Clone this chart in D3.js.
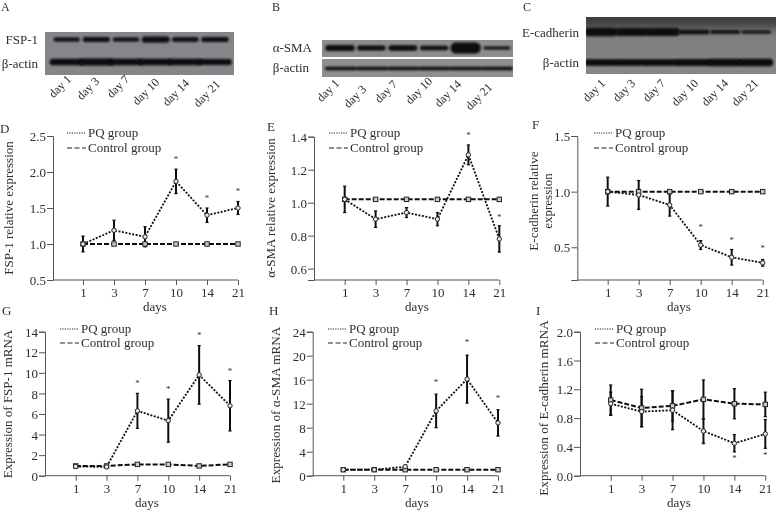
<!DOCTYPE html>
<html><head><meta charset="utf-8">
<style>html,body{margin:0;padding:0;background:#fff}svg{display:block}
text{font-family:"Liberation Serif",serif;fill:#2e2e2e}</style>
<script src="https://cdn.jsdelivr.net/npm/d3@7/dist/d3.min.js"></script></head>
<body><svg id="c" width="776" height="511"></svg>
<script>
// ---- data ----
const days = ["1","3","7","10","14","21"];
const blotDays = ["day 1","day 3","day 7","day 10","day 14","day 21"];

const fsp1Bands   = [0.8,1.0,0.85,1.25,0.95,1.05];
const actinABands = [1.2,1.25,1.2,1.15,1.15,1.1];
const smaBands    = [1.1,0.9,1.0,0.8,2.0,0.5];
const actinBBands = [0.8,0.8,0.8,0.8,0.8,0.85];
const ecadBands   = [1.5,1.4,1.4,0.8,0.6,0.5];
const actinCBands = [1.15,1.2,1.2,1.25,1.3,1.3];

const dPQ=[1,1.19,1.1,1.87,1.4,1.5],    dPQErr=[.11,.14,.14,.17,.1,.09];
const dCtrl=[1,1,1,1,1,1],              dStars=[null,null,null,2.2,1.65,1.75];
const ePQ=[1.02,.9,.94,.9,1.29,.78],    ePQErr=[.08,.05,.03,.04,.06,.08];
const eCtrl=[1.02,1.02,1.02,1.02,1.02,1.02], eStars=[null,null,null,null,1.415,.92];
const fPQ=[1,.97,.88,.52,.41,.36],      fPQErr=[.13,.13,.1,.04,.07,.03];
const fCtrl=[1,1,1,1,1,1],              fStars=[null,null,null,.69,.577,.506];
const gPQ=[.9,.85,6.3,5.35,9.8,6.8],    gPQErr=[.1,.1,1.7,2.1,2.85,2.45];
const gCtrl=[.95,.95,1.1,1.1,.95,1.1],  gStars=[null,null,9.1,8.5,13.8,10.3];
const hPQ=[1,1,1.5,10.8,16.1,8.8],      hPQErr=[0,0,.2,2.8,4,2.2];
const hCtrl=[1,1,1,1,1,1],              hStars=[null,null,null,15.8,22.4,13.2];
const iPQ=[1,.89,.91,.62,.45,.58],      iPQErr=[.16,.21,.27,.17,.12,.2];
const iCtrl=[1.05,.94,.97,1.06,1,.99],  iCtrlErr=[.21,.26,.21,.27,.21,.17];
const iStars=[null,null,null,.435,.265,.3];
const noErr=[0,0,0,0,0,0];

const panels=[
 {l:"D",lx:0,ly:133,ax:53,x0:83,x1:238,yT:136,yB:280,dom:[.5,2.5],ticks:[.5,1,1.5,2,2.5],f:".1f",pq:dPQ,pe:dPQErr,c:dCtrl,ce:noErr,s:dStars,
  lab:["FSP-1 relative expression"],labX:[8],labY:208,labS:13,lgX:67,lgY:[133,148],dayB:311,dayX:155},
 {l:"E",lx:267,ly:131,ax:314,x0:344.7,x1:499.3,yT:136.7,yB:280,dom:[.531,1.4],ticks:[.6,.8,1,1.2,1.4],f:".1f",pq:ePQ,pe:ePQErr,c:eCtrl,ce:noErr,s:eStars,
  lab:["α-SMA relative expression"],labX:[270],labY:208,labS:13,lgX:329,lgY:[133,148],dayB:311,dayX:417},
 {l:"F",lx:532,ly:129,ax:577.3,x0:607.7,x1:762.7,yT:136,yB:280,dom:[.206,1.5],ticks:[.5,1,1.5],f:".1f",pq:fPQ,pe:fPQErr,c:fCtrl,ce:noErr,s:fStars,
  lab:["E-cadherin relative","expression"],labX:[533,547],labY:201,labS:13,lgX:594,lgY:[133,148],dayB:311,dayX:679},
 {l:"G",lx:2,ly:315,ax:45,x0:75.7,x1:230,yT:331.7,yB:475.7,dom:[0,14],ticks:[0,2,4,6,8,10,12,14],f:"d",pq:gPQ,pe:gPQErr,c:gCtrl,ce:noErr,s:gStars,
  lab:["Expression of FSP-1 mRNA"],labX:[7],labY:404,labS:13,lgX:60,lgY:[329,343],dayB:507,dayX:147},
 {l:"H",lx:269,ly:315,ax:312.7,x0:343.3,x1:498,yT:331.7,yB:475.7,dom:[0,24],ticks:[0,4,8,12,16,20,24],f:"d",pq:hPQ,pe:hPQErr,c:hCtrl,ce:noErr,s:hStars,
  lab:["Expression of α-SMA mRNA"],labX:[275],labY:405,labS:13.2,lgX:328,lgY:[329,343],dayB:507,dayX:417},
 {l:"I",lx:536,ly:315,ax:580,x0:610.7,x1:765.3,yT:331.7,yB:475.7,dom:[0,2],ticks:[0,.4,.8,1.2,1.6,2],f:".1f",pq:iPQ,pe:iPQErr,c:iCtrl,ce:iCtrlErr,s:iStars,
  lab:["Expression of E-cadherin mRNA"],labX:[543],labY:408,labS:13.2,lgX:595,lgY:[329,343],dayB:507,dayX:679}
];

const svg=d3.select("#c");
const defs=svg.append("defs");
defs.append("filter").attr("id","soft").attr("x","-20%").attr("y","-20%").attr("width","140%").attr("height","140%")
  .append("feGaussianBlur").attr("stdDeviation",0.35);
defs.append("filter").attr("id","band").attr("x","-30%").attr("y","-100%").attr("width","160%").attr("height","300%")
  .append("feGaussianBlur").attr("stdDeviation",1.1);
defs.append("filter").attr("id","smear").attr("x","-10%").attr("y","-100%").attr("width","120%").attr("height","300%")
  .append("feGaussianBlur").attr("stdDeviation",5);

// ---- western blots ----
const gels=[
 {x:45,y:32,w:189,h:43,col:"#85858a",rows:[
   {b:fsp1Bands,cy:39.5,lanes:[66.7,215],bw:27,ky:2.4},
   {b:actinABands,cy:62,lanes:[66.7,215],bw:33,ky:2.8}]},
 {x:322,y:40,w:191,h:17,col:"#8c8c8c",rows:[{b:smaBands,cy:48,lanes:[340,497],bw:29,ky:2.8}]},
 {x:322,y:59,w:191,h:18,col:"#8e8e8e",rows:[{b:actinBBands,cy:68.5,lanes:[341,497],bw:33,ky:2.2}]},
 {x:586,y:17,w:190,h:57,col:"#7f7f80",smear:true,rows:[
   {b:ecadBands,cy:32,lanes:[601,756],bw:32,ky:2.8},
   {b:actinCBands,cy:62.5,lanes:[601,756],bw:33,ky:2.8}]}
];
gels.forEach((g,i)=>{
  defs.append("clipPath").attr("id","gc"+i).append("rect").attr("x",g.x).attr("y",g.y).attr("width",g.w).attr("height",g.h);
  const gg=svg.append("g").attr("clip-path",`url(#gc${i})`);
  gg.append("rect").attr("x",g.x).attr("y",g.y).attr("width",g.w).attr("height",g.h).attr("fill",g.col);
  if(g.smear){
    gg.append("rect").attr("x",g.x-10).attr("y",g.y-8).attr("width",g.w+20).attr("height",19)
      .attr("fill","#222").attr("opacity",.7).attr("filter","url(#smear)");
    gg.append("rect").attr("x",g.x-10).attr("y",g.y+42).attr("width",g.w+20).attr("height",14)
      .attr("fill","#a0a0a0").attr("opacity",.35).attr("filter","url(#smear)");
  }
  g.rows.forEach(r=>{
    const x=d3.scalePoint().domain(blotDays).range(r.lanes);
    gg.selectAll(null).data(r.b.map((v,k)=>({v,d:blotDays[k]}))).join("rect")
      .attr("x",d=>x(d.d)-r.bw/2*(0.85+0.15*Math.min(d.v,1.3)))
      .attr("width",d=>r.bw*(0.85+0.15*Math.min(d.v,1.3)))
      .attr("y",d=>r.cy-r.ky*d.v).attr("height",d=>2*r.ky*d.v)
      .attr("rx",d=>r.ky*d.v)
      .attr("fill","#070707").attr("filter","url(#band)");
  });
});

const txt=svg.append("g").attr("filter","url(#soft)");
function plain(t,x,y,anchor,size){return txt.append("text").attr("x",x).attr("y",y).attr("text-anchor",anchor||"start").attr("font-size",size||13).text(t);}
[["A",1,11],["B",272,11],["C",523,11]].forEach(a=>plain(a[0],a[1],a[2],"start",12));
[["FSP-1",38,44],["β-actin",38,68],["α-SMA",312,52],["β-actin",309,72],["E-cadherin",579,37],["β-actin",579,67]]
 .forEach(a=>plain(a[0],a[1],a[2],"end"));

const dayEnds=[
 [[72,80],[100,82],[130,80],[160,83],[190,84],[221,85]],
 [[340,84],[367,90],[398,85],[433,82],[462,85],[493,88]],
 [[606,84],[636,84],[666,84],[699,84],[729,84],[759,84]]
];
dayEnds.forEach(set=>set.forEach((p,k)=>{
  txt.append("text").attr("transform",`translate(${p[0]},${p[1]}) rotate(-45)`)
    .attr("text-anchor","end").attr("font-size",12).text(blotDays[k]);
}));

// ---- line panels ----
const axisCol="#555";
panels.forEach(p=>{
  const g=svg.append("g").attr("filter","url(#soft)");
  const x=d3.scalePoint().domain(days).range([p.x0,p.x1]);
  const y=d3.scaleLinear().domain(p.dom).range([p.yB,p.yT]);

  const ax=g.append("g").attr("transform",`translate(${p.ax},0)`)
    .call(d3.axisLeft(y).tickValues(p.ticks).tickFormat(d3.format(p.f)).tickSize(6).tickPadding(1));
  const bx=g.append("g").attr("transform",`translate(0,${p.yB})`)
    .call(d3.axisBottom(x).tickSize(5).tickPadding(3).tickSizeOuter(0));
  bx.select(".domain").remove();
  g.append("line").attr("x1",p.ax).attr("x2",p.x1).attr("y1",p.yB).attr("y2",p.yB).attr("stroke",axisCol).attr("stroke-width",1);
  [ax,bx].forEach(s=>{
    s.selectAll("text").attr("font-size",13).attr("font-family",'"Liberation Serif",serif').attr("fill","#2e2e2e");
    s.selectAll("line,.domain").attr("stroke",axisCol);
  });
  ax.selectAll(".tick text").attr("dy","0.36em");

  const line=d3.line().x((d,i)=>x(days[i])).y(d=>y(d));
  const idx=d3.range(days.length);

  // control
  g.append("path").attr("d",line(p.c)).attr("fill","none").attr("stroke","#111").attr("stroke-width",2).attr("stroke-dasharray","5,2");
  // PQ
  g.append("path").attr("d",line(p.pq)).attr("fill","none").attr("stroke","#111").attr("stroke-width",1.8).attr("stroke-dasharray","2,1.5");

  // error bars
  const bars=(vals,errs)=>{
    g.selectAll(null).data(idx.filter(i=>errs[i]>0)).join("line")
      .attr("x1",i=>x(days[i])).attr("x2",i=>x(days[i]))
      .attr("y1",i=>y(vals[i]-errs[i])).attr("y2",i=>y(vals[i]+errs[i]))
      .attr("stroke","#111").attr("stroke-width",2);
    [1,-1].forEach(sn=>g.selectAll(null).data(idx.filter(i=>errs[i]>0)).join("line")
      .attr("x1",i=>x(days[i])-1.6).attr("x2",i=>x(days[i])+1.6)
      .attr("y1",i=>y(vals[i]+sn*errs[i])).attr("y2",i=>y(vals[i]+sn*errs[i]))
      .attr("stroke","#111").attr("stroke-width",1.2));
  };
  bars(p.c,p.ce); bars(p.pq,p.pe);

  // markers
  g.selectAll(null).data(idx).join("rect")
    .attr("x",i=>x(days[i])-2.2).attr("y",i=>y(p.c[i])-2.2).attr("width",4.4).attr("height",4.4)
    .attr("fill","#ccc").attr("stroke","#222").attr("stroke-width",1);
  g.selectAll(null).data(idx).join("circle")
    .attr("cx",i=>x(days[i])).attr("cy",i=>y(p.pq[i])).attr("r",2.2)
    .attr("fill","#e8e8e8").attr("stroke","#222").attr("stroke-width",1);

  // significance stars
  g.selectAll(null).data(idx.filter(i=>p.s[i]!==null)).join("text")
    .attr("x",i=>x(days[i])).attr("y",i=>y(p.s[i])+4).attr("text-anchor","middle").attr("font-size",9).text("*");

  // legend
  [[p.lgY[0],"1.2,1.2","PQ group"],[p.lgY[1],"5,2.5","Control group"]].forEach(r=>{
    g.append("line").attr("x1",p.lgX).attr("x2",p.lgX+19).attr("y1",r[0]).attr("y2",r[0])
      .attr("stroke","#222").attr("stroke-width",1).attr("stroke-dasharray",r[1]);
    g.append("text").attr("x",p.lgX+21).attr("y",r[0]+4).attr("font-size",13).text(r[2]);
  });

  // y label
  p.lab.forEach((t,k)=>g.append("text").attr("transform",`translate(${p.labX[k]},${p.labY}) rotate(-90)`)
    .attr("text-anchor","middle").attr("dominant-baseline","central").attr("font-size",p.labS).text(t));
  g.append("text").attr("x",p.dayX).attr("y",p.dayB).attr("text-anchor","middle").attr("font-size",13).text("days");
  g.append("text").attr("x",p.lx).attr("y",p.ly).attr("font-size",13).text(p.l);
});
</script></body></html>
